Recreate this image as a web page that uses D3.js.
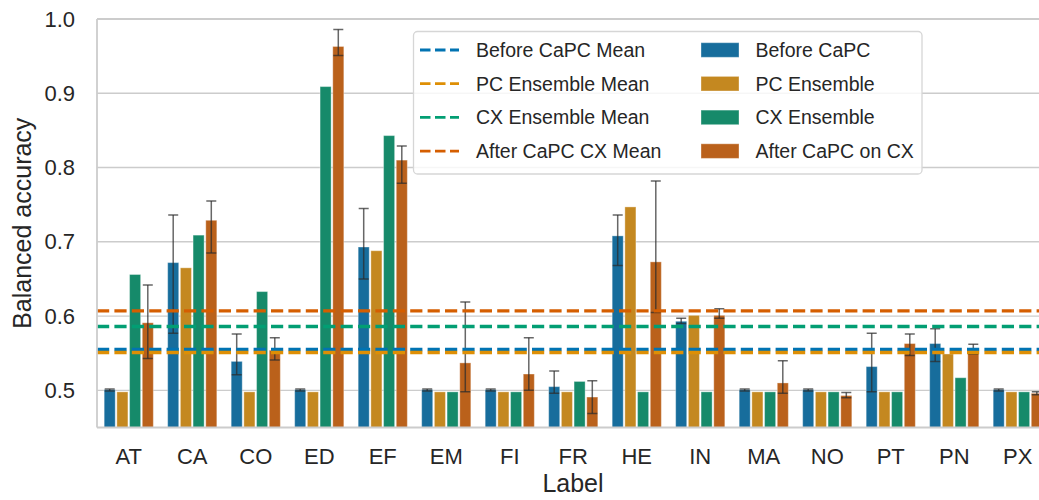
<!DOCTYPE html>
<html>
<head>
<meta charset="utf-8">
<script src="https://cdn.jsdelivr.net/npm/d3@7/dist/d3.min.js"></script>
<style>
  html, body { margin: 0; padding: 0; background: #fff; }
  svg { display: block; font-family: "Liberation Sans", Arial, sans-serif; }
</style>
</head>
<body>
<svg id="chart" width="1039" height="500"></svg>
<script>
// Categories along the x axis
const categories = ["AT","CA","CO","ED","EF","EM","FI","FR","HE","IN","MA","NO","PT","PN","PX"];

// Series names (bars) and mean-line names
const seriesNames = ["Before CaPC","PC Ensemble","CX Ensemble","After CaPC on CX"];
const meanNames = ["Before CaPC Mean","PC Ensemble Mean","CX Ensemble Mean","After CaPC CX Mean"];

// Balanced accuracy per label
const beforeCaPC = [0.501,0.672,0.539,0.501,0.693,0.501,0.501,0.505,0.708,0.593,0.501,0.501,0.532,0.563,0.501];
const beforeLo   = [0.499,0.577,0.521,0.499,0.650,0.499,0.499,0.496,0.668,0.590,0.499,0.499,0.498,0.539,0.499];
const beforeHi   = [0.502,0.736,0.576,0.502,0.745,0.502,0.502,0.526,0.736,0.597,0.502,0.502,0.577,0.583,0.502];

const pcEnsemble = [0.498,0.665,0.498,0.498,0.688,0.498,0.498,0.498,0.747,0.601,0.498,0.498,0.498,0.549,0.498];
const cxEnsemble = [0.656,0.709,0.633,0.909,0.843,0.498,0.498,0.512,0.498,0.498,0.498,0.498,0.498,0.517,0.498];

const afterCaPC  = [0.591,0.729,0.554,0.963,0.810,0.537,0.522,0.491,0.673,0.601,0.510,0.493,0.563,0.555,0.496];
const afterLo    = [0.543,0.685,0.541,0.951,0.779,0.498,0.500,0.469,0.605,0.597,0.496,0.490,0.547,0.549,0.494];
const afterHi    = [0.642,0.755,0.571,0.986,0.829,0.619,0.571,0.513,0.782,0.610,0.540,0.497,0.576,0.562,0.498];

// Mean of each series across labels
const meanValues = [0.555, 0.551, 0.586, 0.607];

// Y axis ticks
const yTicks = [0.5, 0.6, 0.7, 0.8, 0.9, 1.0];

// Colours: bars (desaturated) and mean lines (full)
const barColors  = ["#176d9c","#c48820","#168a6a","#ba611b"];
const lineColors = ["#0173b2","#de8f05","#029e73","#d55e00"];

const seriesValues = [beforeCaPC, pcEnsemble, cxEnsemble, afterCaPC];
const seriesErr = [[beforeLo, beforeHi], null, null, [afterLo, afterHi]];

const svg = d3.select("#chart");
const plot = { left: 97, right: 1049.5, top: 19, bottom: 427.5 };
const textColor = "#262626";
const gridColor = "#cccccc";

const x = d3.scaleBand().domain(categories).range([plot.left, plot.right]).paddingInner(0).paddingOuter(0);
const xInner = d3.scaleBand().domain(d3.range(seriesNames.length))
  .range([x.bandwidth() * 0.1, x.bandwidth() * 0.9]);
const y = d3.scaleLinear().domain([0.45, 1.0]).range([plot.bottom, plot.top]);

svg.append("defs").append("clipPath").attr("id", "plotClip")
  .append("rect").attr("x", plot.left).attr("y", plot.top)
  .attr("width", plot.right - plot.left).attr("height", plot.bottom - plot.top);

// Gridlines
svg.append("g").selectAll("line").data(yTicks).join("line")
  .attr("x1", plot.left).attr("x2", plot.right)
  .attr("y1", d => y(d)).attr("y2", d => y(d))
  .attr("stroke", gridColor).attr("stroke-width", 1.4);

const body = svg.append("g").attr("clip-path", "url(#plotClip)");

// Bars
const barW = xInner.bandwidth() * 0.87;
seriesValues.forEach((vals, s) => {
  body.append("g").selectAll("rect").data(vals).join("rect")
    .attr("x", (d, i) => x(categories[i]) + xInner(s) + (xInner.bandwidth() - barW) / 2)
    .attr("width", barW)
    .attr("y", d => y(d))
    .attr("height", d => plot.bottom - y(d))
    .attr("fill", barColors[s])
    .attr("stroke", "rgba(255,255,255,0.35)")
    .attr("stroke-width", 1);
});

// Error bars
const capW = 10;
seriesErr.forEach((err, s) => {
  if (!err) return;
  const [lo, hi] = err;
  const g = body.append("g").attr("stroke", "rgba(45,45,45,0.72)").attr("stroke-width", 1.5);
  categories.forEach((c, i) => {
    const cx = x(c) + xInner(s) + xInner.bandwidth() / 2;
    g.append("line").attr("x1", cx).attr("x2", cx).attr("y1", y(lo[i])).attr("y2", y(hi[i]));
    g.append("line").attr("x1", cx - capW / 2).attr("x2", cx + capW / 2).attr("y1", y(lo[i])).attr("y2", y(lo[i]));
    g.append("line").attr("x1", cx - capW / 2).attr("x2", cx + capW / 2).attr("y1", y(hi[i])).attr("y2", y(hi[i]));
  });
});

// Mean lines
body.append("g").selectAll("line").data(meanValues).join("line")
  .attr("x1", plot.left).attr("x2", plot.right)
  .attr("y1", d => y(d)).attr("y2", d => y(d))
  .attr("stroke", (d, i) => lineColors[i])
  .attr("stroke-width", 3.3)
  .attr("stroke-dasharray", "12.2,5.2");

// Spines
const spine = svg.append("g").attr("stroke", gridColor).attr("stroke-width", 1.8).attr("fill", "none");
spine.append("line").attr("x1", plot.left).attr("x2", plot.left).attr("y1", plot.top).attr("y2", plot.bottom);
spine.append("line").attr("x1", plot.left).attr("x2", plot.right).attr("y1", plot.bottom).attr("y2", plot.bottom);
spine.append("line").attr("x1", plot.left).attr("x2", plot.right).attr("y1", plot.top).attr("y2", plot.top);

// Axes
const xAxis = svg.append("g").attr("transform", `translate(0,${plot.bottom})`)
  .call(d3.axisBottom(x).tickSize(0).tickPadding(21));
const yAxis = svg.append("g").attr("transform", `translate(${plot.left},0)`)
  .call(d3.axisLeft(y).tickValues(yTicks).tickFormat(d3.format(".1f")).tickSize(0).tickPadding(22));
[xAxis, yAxis].forEach(a => {
  a.select(".domain").remove();
  a.selectAll("text").attr("fill", textColor).style("font-size", "22px")
    .style("font-family", "'Liberation Sans', Arial, sans-serif");
});

// Axis titles
svg.append("text").attr("x", (plot.left + 1039) / 2 + 5).attr("y", 492)
  .attr("text-anchor", "middle").attr("fill", textColor).style("font-size", "25px").text("Label");
svg.append("text").attr("transform", `translate(31,${(plot.top + plot.bottom) / 2}) rotate(-90)`)
  .attr("text-anchor", "middle").attr("fill", textColor).style("font-size", "25px").text("Balanced accuracy");

// Legend
const legend = svg.append("g");
legend.append("rect").attr("x", 413.5).attr("y", 31.5).attr("width", 508.5).attr("height", 142.5)
  .attr("rx", 4).attr("fill", "rgba(255,255,255,0.82)").attr("stroke", "#d6d6d6").attr("stroke-width", 1.3);
const rowY = i => 50 + i * 33.7;
meanNames.forEach((name, i) => {
  legend.append("line").attr("x1", 420).attr("x2", 459).attr("y1", rowY(i)).attr("y2", rowY(i))
    .attr("stroke", lineColors[i]).attr("stroke-width", 2.8).attr("stroke-dasharray", "10.5,4.5");
  legend.append("text").attr("x", 476).attr("y", rowY(i)).attr("dy", "0.35em")
    .attr("fill", textColor).style("font-size", "19.5px").text(name);
});
seriesNames.forEach((name, i) => {
  legend.append("rect").attr("x", 701).attr("y", rowY(i) - 7.3).attr("width", 38).attr("height", 14.6)
    .attr("fill", barColors[i]).attr("stroke", "rgba(255,255,255,0.35)").attr("stroke-width", 1);
  legend.append("text").attr("x", 755.5).attr("y", rowY(i)).attr("dy", "0.35em")
    .attr("fill", textColor).style("font-size", "19.5px").text(name);
});
</script>
</body>
</html>
